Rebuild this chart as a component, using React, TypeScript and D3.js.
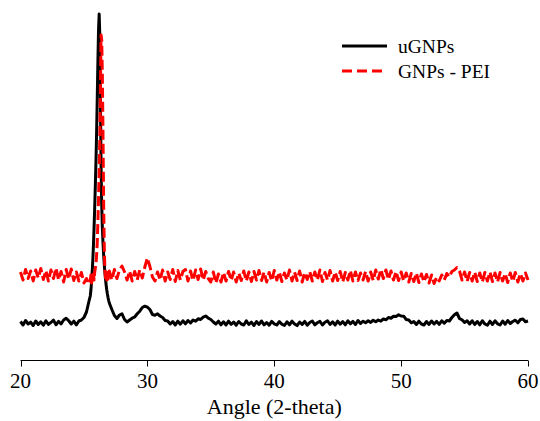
import React from "react";
import * as d3 from "d3";

// Angle grids: three segments (coarse, fine around the main peak, coarse)
const segStarts = [20.0, 25.5, 27.0];
const segSteps = [0.2, 0.05, 0.2];

// uGNPs intensities (a.u.)
const blackLow = [
  385, 350, 395, 360, 378, 345, 390, 355, 382, 348,
  392, 356, 375, 398, 352, 386, 362, 400, 418, 392,
  360, 388, 352, 390, 400, 425, 480, 590,
];
const blackPeak = [
  640, 700, 780, 880, 1000, 1150, 1330, 1530, 1750, 1990,
  2280, 2620, 2980, 3300, 3460, 3250, 2600, 1950, 1560, 1330,
  1180, 1060, 960, 880, 810, 750, 700, 660, 625, 595,
];
const blackHigh = [
  570, 505, 445, 415, 450, 462, 405, 380, 400, 418,
  430, 462, 488, 525, 538, 528, 505, 455, 448, 462,
  440, 425, 395, 390, 360, 385, 350, 388, 358, 392,
  362, 395, 370, 400, 388, 412, 405, 428, 440, 418,
  405, 380, 360, 388, 352, 382, 350, 388, 356, 380,
  348, 385, 360, 350, 392, 355, 378, 345, 385, 356,
  390, 352, 375, 348, 386, 362, 350, 384, 358, 345,
  382, 352, 388, 360, 344, 380, 355, 386, 348, 375,
  390, 352, 372, 386, 350, 378, 392, 355, 382, 350,
  388, 358, 384, 352, 392, 362, 386, 355, 395, 365,
  388, 372, 392, 376, 398, 382, 400, 388, 410, 402,
  425, 418, 438, 435, 452, 440, 438, 405, 400, 372,
  385, 355, 388, 360, 350, 385, 356, 390, 360, 386,
  356, 392, 368, 395, 390, 425, 452, 470, 415, 402,
  375, 392, 360, 392, 356, 385, 352, 392, 360, 348,
  388, 355, 392, 362, 350, 390, 358, 394, 365, 385,
  398, 372, 405, 410, 382, 390,
];

// GNPs - PEI intensities (a.u.)
const redLow = [
  880, 800, 905, 815, 890, 790, 900, 820, 915, 805,
  895, 790, 900, 815, 920, 800, 885, 780, 905, 810,
  910, 795, 880, 790, 875, 770, 815, 760,
];
const redPeak = [
  790, 850, 770, 845, 810, 860, 800, 880, 920, 960,
  1050, 1180, 1380, 1620, 1880, 2200, 2750, 3250, 3200, 2850,
  2300, 1600, 1150, 900, 820, 880, 800, 870, 810, 880,
];
const redHigh = [
  890, 800, 905, 815, 900, 940, 880, 800, 890, 790,
  885, 800, 900, 820, 930, 1020, 935, 830, 790, 880,
  800, 900, 790, 880, 805, 905, 785, 895, 800, 885,
  905, 790, 890, 795, 900, 805, 910, 800, 885, 815,
  780, 880, 770, 860, 780, 875, 790, 885, 795, 880,
  780, 870, 795, 890, 790, 880, 785, 885, 800, 895,
  795, 880, 780, 875, 790, 895, 800, 880, 785, 870,
  800, 900, 790, 880, 795, 890, 780, 875, 805, 885,
  790, 880, 800, 900, 785, 875, 800, 895, 790, 880,
  795, 885, 780, 875, 800, 895, 790, 880, 795, 870,
  800, 885, 790, 880, 795, 900, 810, 905, 815, 900,
  805, 890, 800, 885, 795, 880, 790, 870, 780, 865,
  785, 870, 775, 860, 780, 855, 770, 850, 765, 830,
  790, 850, 800, 865, 830, 885, 900, 925, 890, 800,
  880, 785, 875, 790, 880, 785, 870, 780, 875, 790,
  880, 785, 870, 780, 875, 790, 865, 775, 870, 785,
  875, 780, 865, 790, 870, 800,
];

const xTicks = [20, 30, 40, 50, 60];
const seriesNames = ["uGNPs", "GNPs - PEI"];
const seriesColors = ["#000000", "#ff0000"];
const xTitle = "Angle (2-theta)";

function toPoints(segs: number[][]): [number, number][] {
  const pts: [number, number][] = [];
  segs.forEach((vals, s) => {
    vals.forEach((v, i) => {
      pts.push([+(segStarts[s] + i * segSteps[s]).toFixed(3), v]);
    });
  });
  return pts;
}

const blackData = toPoints([blackLow, blackPeak, blackHigh]);
const redData = toPoints([redLow, redPeak, redHigh]);

export default function App() {
  const W = 540;
  const H = 421;
  const x = d3.scaleLinear().domain([20, 60]).range([20.5, 528]);
  const y = d3.scaleLinear().domain([0, 3500]).range([360, 10]);
  const line = d3
    .line<[number, number]>()
    .x((d) => x(d[0]))
    .y((d) => y(d[1]));
  const axisY = 360.5;
  const font = "'Liberation Serif', 'Times New Roman', serif";

  return (
    <svg
      width={W}
      height={H}
      style={{ position: "absolute", left: 0, top: 0, background: "#fff" }}
    >
      <rect width={W} height={H} fill="#fff" />
      <path d={line(blackData) || ""} fill="none" stroke={seriesColors[0]} strokeWidth={3} strokeLinejoin="round" />
      <path
        d={line(redData) || ""}
        fill="none"
        stroke={seriesColors[1]}
        strokeWidth={3}
        strokeDasharray="10,4"
        strokeLinejoin="round"
      />
      <line x1={x(20)} x2={x(60)} y1={axisY} y2={axisY} stroke="#000" strokeWidth={1} />
      {xTicks.map((t) => (
        <g key={t}>
          <line x1={Math.round(x(t)) + 0.5} x2={Math.round(x(t)) + 0.5} y1={axisY} y2={axisY + 6} stroke="#000" strokeWidth={1} />
          <text x={x(t)} y={388} textAnchor="middle" fontFamily={font} fontSize={21} fill="#000">
            {t}
          </text>
        </g>
      ))}
      <text x={(x(20) + x(60)) / 2} y={414} textAnchor="middle" fontFamily={font} fontSize={22} fill="#000">
        {xTitle}
      </text>
      {/* legend */}
      <line x1={342} x2={387} y1={46} y2={46} stroke={seriesColors[0]} strokeWidth={2.8} />
      <text x={398} y={53} fontFamily={font} fontSize={19.5} fill="#000">
        {seriesNames[0]}
      </text>
      <line x1={342} x2={387} y1={71} y2={71} stroke={seriesColors[1]} strokeWidth={2.8} strokeDasharray="10,5" />
      <text x={398} y={77.5} fontFamily={font} fontSize={19.5} fill="#000">
        {seriesNames[1]}
      </text>
    </svg>
  );
}
